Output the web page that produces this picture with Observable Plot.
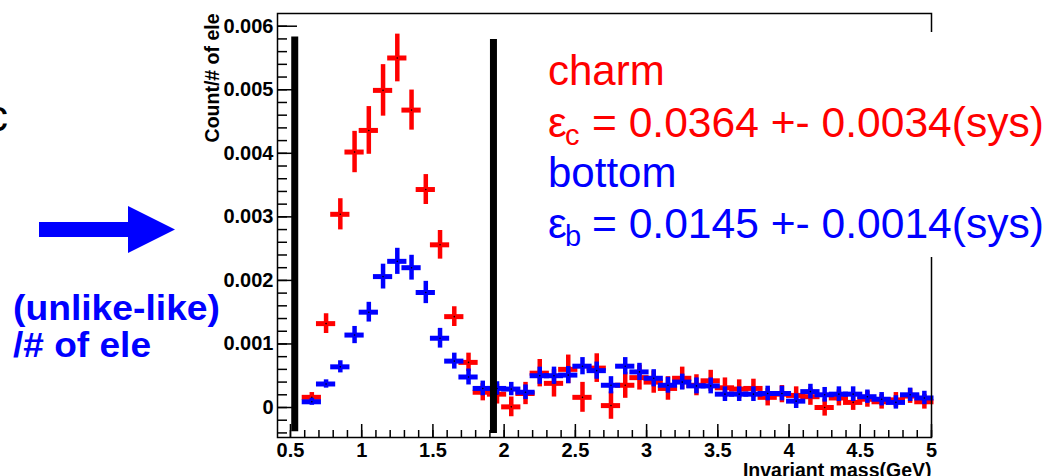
<!DOCTYPE html>
<html><head><meta charset="utf-8">
<script src="https://cdn.jsdelivr.net/npm/d3@7"></script>
<script src="https://cdn.jsdelivr.net/npm/@observablehq/plot@0.6"></script>
<style>
html,body{margin:0;padding:0;background:#fff;overflow:hidden;}
#wrap{position:relative;width:1057px;height:476px;}
#wrap svg{position:absolute;left:0;top:0;}
</style></head><body>
<div id="wrap">
<svg id="ann" width="1057" height="476" font-family="Liberation Sans, Arial, sans-serif">
  <text x="-14" y="131" font-size="44" fill="#000">c</text>
  <polygon points="39,222 128,222 128,206 175,229.5 128,253 128,237 39,237" fill="#0000ff"/>
  <text x="13" y="320" font-size="35" font-weight="bold" fill="#0000ff" textLength="207" lengthAdjust="spacingAndGlyphs">(unlike-like)</text>
  <text x="13" y="357" font-size="35" font-weight="bold" fill="#0000ff" textLength="138" lengthAdjust="spacingAndGlyphs">/# of ele</text>
  <rect x="520" y="32" width="537" height="225" fill="#fff"/>
  <text x="548" y="85" font-size="42" fill="#ff0000">charm</text>
  <text font-size="42" fill="#ff0000"><tspan x="548" y="137">ε</tspan><tspan x="565" y="145" font-size="29">c</tspan><tspan x="592" y="137" textLength="452" lengthAdjust="spacingAndGlyphs">= 0.0364 +- 0.0034(sys)</tspan></text>
  <text x="548" y="187" font-size="42" fill="#0000ff">bottom</text>
  <text font-size="42" fill="#0000ff"><tspan x="548" y="238">ε</tspan><tspan x="565" y="246" font-size="29">b</tspan><tspan x="592" y="238" textLength="452" lengthAdjust="spacingAndGlyphs">= 0.0145 +- 0.0014(sys)</tspan></text>
</svg>
</div>
<script>
// Bin centres (GeV), bin width 0.1
const massBins = [0.65,0.75,0.85,0.95,1.05,1.15,1.25,1.35,1.45,1.55,1.65,1.75,1.85,1.95,2.05,2.15,2.25,2.35,2.45,2.55,2.65,2.75,2.85,2.95,3.05,3.15,3.25,3.35,3.45,3.55,3.65,3.75,3.85,3.95,4.05,4.15,4.25,4.35,4.45,4.55,4.65,4.75,4.85,4.95];
const binHalfWidth = 0.05;
// charm (red)
const charmValues = [0.00016,0.00132,0.00304,0.00402,0.00436,0.00499,0.00550,0.00468,0.00343,0.00256,0.00143,0.00071,0.00024,0.00021,0.00001,0.00022,0.00054,0.00038,0.00060,0.00016,0.00062,0.00003,0.00035,0.00047,0.00040,0.00030,0.00046,0.00035,0.00042,0.00031,0.00029,0.00030,0.00016,0.00021,0.00019,0.00017,0.00000,0.00015,0.00008,0.00013,0.00009,0.00012,0.00018,0.00009];
const charmErrors = [0.00004,0.00012,0.00021,0.00029,0.00034,0.00037,0.00034,0.00028,0.00020,0.00019,0.00012,0.00011,0.00010,0.00012,0.00012,0.00014,0.00018,0.00018,0.00019,0.00020,0.00019,0.00018,0.00017,0.00016,0.00014,0.00015,0.00014,0.00013,0.00013,0.00012,0.00011,0.00011,0.00010,0.00010,0.00010,0.00010,0.00010,0.00009,0.00009,0.00009,0.00008,0.00008,0.00008,0.00008];
// bottom (blue)
const bottomValues = [0.00009,0.00037,0.00064,0.00114,0.00150,0.00206,0.00230,0.00220,0.00181,0.00109,0.00073,0.00048,0.00030,0.00030,0.00029,0.00024,0.00050,0.00050,0.00051,0.00065,0.00058,0.00035,0.00065,0.00056,0.00046,0.00035,0.00040,0.00034,0.00034,0.00021,0.00021,0.00021,0.00022,0.00022,0.00010,0.00025,0.00020,0.00021,0.00021,0.00017,0.00013,0.00008,0.00020,0.00015];
const bottomErrors = [0.00002,0.00003,0.00006,0.00010,0.00012,0.00016,0.00017,0.00016,0.00014,0.00012,0.00009,0.00009,0.00008,0.00007,0.00007,0.00008,0.00010,0.00010,0.00010,0.00010,0.00010,0.00010,0.00010,0.00010,0.00010,0.00009,0.00009,0.00009,0.00009,0.00008,0.00008,0.00008,0.00008,0.00008,0.00008,0.00008,0.00008,0.00008,0.00008,0.00007,0.00007,0.00007,0.00007,0.00007];
// mass-window cut lines
const cutX = [0.53, 1.925];
const cutLow = [-0.00038, -0.00041];
const cutHigh = [0.00583, 0.00579];
// axes
const yTickValues = [0,0.001,0.002,0.003,0.004,0.005,0.006];
const yTickLabels = ["0","0.001","0.002","0.003","0.004","0.005","0.006"];
const xTickValues = [0.5,1,1.5,2,2.5,3,3.5,4,4.5,5];
const xTickLabels = ["0.5","1","1.5","2","2.5","3","3.5","4","4.5","5"];
const yMinorTicks = d3.range(-2, 31).map(i => +(i * 0.0002).toFixed(4));
const xMinorTicks = d3.range(5, 51).map(i => +(i * 0.1).toFixed(1));
const xLabel = "Invariant mass(GeV)";
const yLabel = "Count/# of ele";

const W = 1057, H = 476, mL = 277, mR = 126, mT = 13, mB = 39;
const fw = W - mL - mR, fh = H - mT - mB;

const charm = massBins.map((x, i) => ({x, y: charmValues[i], e: charmErrors[i]}));
const bottom = massBins.map((x, i) => ({x, y: bottomValues[i], e: bottomErrors[i]}));
const cuts = cutX.map((x, i) => ({x, y1: cutLow[i], y2: cutHigh[i]}));

const cross = (data, color) => [
  Plot.ruleY(data, {y: "y", x1: d => d.x - binHalfWidth, x2: d => d.x + binHalfWidth, stroke: color, strokeWidth: 5, strokeLinecap: "square"}),
  Plot.ruleX(data, {x: "x", y1: d => d.y - d.e, y2: d => d.y + d.e, stroke: color, strokeWidth: 4.5, strokeLinecap: "square"}),
  Plot.dot(data, {x: "x", y: "y", r: 0.8, fill: "black"})
];

const chart = Plot.plot({
  width: W, height: H,
  marginLeft: mL, marginRight: mR, marginTop: mT, marginBottom: mB,
  style: {fontFamily: "'Liberation Sans', Arial, sans-serif", fontSize: "20px", fontWeight: "bold", color: "black", background: "transparent"},
  x: {domain: [0.409, 5.0]},
  y: {domain: [-0.000472, 0.0062]},
  marks: [
    ...cross(charm, "#ff0000"),
    ...cross(bottom, "#0000ff"),
    Plot.ruleX(cuts, {x: "x", y1: "y1", y2: "y2", stroke: "black", strokeWidth: 7}),
    Plot.ruleY(yMinorTicks, {y: d => d, insetRight: fw - 10, stroke: "black", strokeWidth: 1.5}),
    Plot.ruleY(yTickValues, {y: d => d, insetRight: fw - 20, stroke: "black", strokeWidth: 1.5}),
    Plot.ruleX(xMinorTicks, {x: d => d, insetTop: fh - 7, stroke: "black", strokeWidth: 1.5}),
    Plot.ruleX(xTickValues, {x: d => d, insetTop: fh - 13, stroke: "black", strokeWidth: 1.5}),
    Plot.axisY(yTickValues, {tickSize: 0, tickPadding: 4, tickFormat: d => yTickLabels[yTickValues.indexOf(d)], label: null, fontSize: 20}),
    Plot.axisX(xTickValues, {tickSize: 0, tickPadding: 5, tickFormat: d => xTickLabels[xTickValues.indexOf(d)], label: null, fontSize: 20}),
    Plot.frame({stroke: "black", strokeWidth: 1.5}),
    Plot.text([yLabel], {frameAnchor: "top-left", rotate: -90, textAnchor: "end", lineAnchor: "middle", dx: -65, fontSize: 19.5, fontWeight: "bold"}),
    Plot.text([xLabel], {frameAnchor: "bottom-right", textAnchor: "end", lineAnchor: "top", dy: 25.5, fontSize: 19.5, fontWeight: "bold"})
  ]
});
const wrap = document.getElementById("wrap");
wrap.insertBefore(chart, document.getElementById("ann"));
</script>
</body></html>
